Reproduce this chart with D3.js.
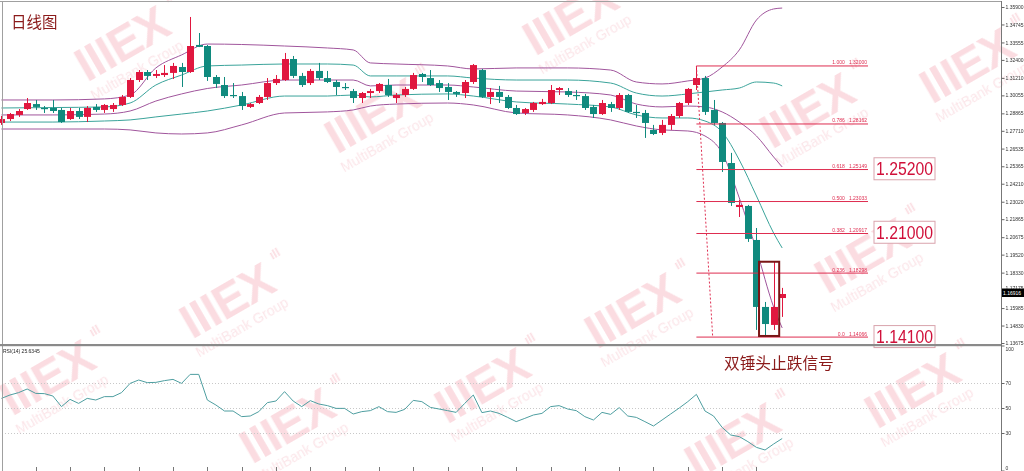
<!DOCTYPE html>
<html><head><meta charset="utf-8">
<script src="https://cdn.jsdelivr.net/npm/d3@7"></script>
<style>
html,body{margin:0;padding:0;background:#fff;}
svg{display:block;font-family:"Liberation Sans",Arial,sans-serif;}
</style></head><body>
<svg id="chart" width="1024" height="471"></svg>
<script>
// ---------------- data ----------------
const opens = [1.2823,1.2849,1.2876,1.2915,1.2948,1.2922,1.2922,1.2909,1.2849,1.2902,
1.2863,1.2929,1.2909,1.2915,1.2942,1.2995,1.3107,1.3160,1.3134,1.3140,
1.3154,1.3193,1.3160,1.3339,1.3332,1.3127,1.3074,1.3008,1.3001,1.2929,
1.2955,1.2995,1.3087,1.3107,1.3246,1.3134,1.3087,1.3167,1.3120,1.3094,
1.3061,1.3034,1.2988,1.3021,1.3034,1.3074,1.2988,1.3008,1.3048,1.3147,
1.3120,1.3087,1.3061,1.3028,1.3021,1.3094,1.3173,1.2995,1.3028,1.2995,
1.2922,1.2889,1.2909,1.2948,1.2955,1.3041,1.3034,1.3008,1.3001,1.2929,
1.2882,1.2948,1.2922,1.3008,1.2896,1.2889,1.2777,1.2757,1.2810,1.2869,
1.2955,1.3074,1.3120,1.2909,1.2823,1.2558,1.2267,1.2274,1.2049,1.1606,
1.1487,1.1665];
const highs = [1.2869,1.2889,1.2915,1.2988,1.2975,1.2935,1.2975,1.2922,1.2922,1.2922,
1.2935,1.2948,1.2948,1.2955,1.3008,1.3120,1.3173,1.3173,1.3173,1.3206,
1.3220,1.3220,1.3524,1.3418,1.3339,1.3140,1.3127,1.3087,1.3028,1.2955,
1.3008,1.3120,1.3140,1.3286,1.3266,1.3154,1.3180,1.3220,1.3167,1.3107,
1.3087,1.3048,1.3028,1.3048,1.3087,1.3114,1.3021,1.3061,1.3154,1.3154,
1.3173,1.3107,1.3087,1.3034,1.3107,1.3213,1.3180,1.3054,1.3068,1.3008,
1.2942,1.2922,1.2962,1.2982,1.3074,1.3061,1.3054,1.3041,1.3015,1.2942,
1.2975,1.2962,1.3021,1.3015,1.2942,1.2909,1.2810,1.2843,1.2882,1.2962,
1.3054,1.3200,1.3134,1.2975,1.2829,1.2625,1.2314,1.2281,1.2128,1.1639,
1.1903,1.1732];
const lows = [1.2810,1.2836,1.2863,1.2909,1.2909,1.2889,1.2889,1.2823,1.2843,1.2849,
1.2829,1.2896,1.2889,1.2896,1.2935,1.2988,1.3094,1.3107,1.3120,1.3127,
1.3114,1.3061,1.3154,1.3325,1.3101,1.3054,1.2988,1.2988,1.2909,1.2922,
1.2948,1.2975,1.3074,1.3101,1.3120,1.3061,1.3074,1.3107,1.3087,1.3008,
1.3041,1.2955,1.2955,1.2988,1.3021,1.2995,1.2955,1.2995,1.3041,1.3094,
1.3068,1.3028,1.2975,1.2995,1.2988,1.3081,1.2988,1.2948,1.2955,1.2915,
1.2876,1.2876,1.2896,1.2942,1.2948,1.3008,1.2995,1.2975,1.2909,1.2856,
1.2876,1.2896,1.2909,1.2889,1.2856,1.2724,1.2743,1.2743,1.2777,1.2856,
1.2942,1.3041,1.2876,1.2810,1.2499,1.2274,1.2201,1.2036,1.1454,1.1407,
1.1454,1.1540];
const closes = [1.2849,1.2882,1.2902,1.2955,1.2929,1.2915,1.2902,1.2829,1.2902,1.2863,
1.2922,1.2909,1.2942,1.2942,1.2995,1.3107,1.3160,1.3134,1.3147,1.3154,
1.3200,1.3160,1.3332,1.3326,1.3127,1.3081,1.3001,1.3001,1.2935,1.2948,
1.2995,1.3087,1.3114,1.3246,1.3134,1.3074,1.3167,1.3120,1.3094,1.3061,
1.3054,1.2988,1.3021,1.3034,1.3081,1.3008,1.3008,1.3048,1.3140,1.3127,
1.3074,1.3054,1.3028,1.3015,1.3094,1.3206,1.2995,1.3028,1.2995,1.2922,
1.2882,1.2915,1.2955,1.2962,1.3041,1.3054,1.3008,1.3001,1.2922,1.2882,
1.2955,1.2922,1.3008,1.2896,1.2889,1.2823,1.2750,1.2810,1.2869,1.2955,
1.3048,1.3120,1.2896,1.2823,1.2565,1.2294,1.2281,1.2056,1.1606,1.1493,
1.1606,1.16916];

const bandIdx = [0,6,12,15,18,21,24,28,33,38,41,43,46,52,55,60,66,71,74,77,80,82,84,86,88,90,91];
const bandUpper2 = [1.2975,1.2975,1.2982,1.3008,1.3187,1.3273,1.3345,1.3342,1.3332,1.3319,1.3306,1.3220,1.3213,1.3200,1.3180,1.3187,1.3187,1.3173,1.3094,1.3081,1.3101,1.3120,1.3193,1.3306,1.3504,1.3577,1.3583];
const bandUpper1 = [1.2922,1.2925,1.2929,1.2955,1.3074,1.3140,1.3200,1.3206,1.3213,1.3213,1.3206,1.3134,1.3134,1.3134,1.3120,1.3107,1.3107,1.3087,1.3021,1.3001,1.3015,1.3028,1.3041,1.3054,1.3094,1.3087,1.3068];
const bandMid    = [1.2876,1.2876,1.2882,1.2902,1.2968,1.3015,1.3051,1.3074,1.3107,1.3107,1.3107,1.3068,1.3074,1.3074,1.3061,1.3034,1.3028,1.3008,1.2948,1.2929,1.2935,1.2929,1.2896,1.2829,1.2737,1.2598,1.2532];
const bandLower1 = [1.2829,1.2829,1.2836,1.2843,1.2863,1.2882,1.2902,1.2942,1.3001,1.3001,1.3008,1.2995,1.3008,1.3015,1.3001,1.2962,1.2948,1.2929,1.2876,1.2856,1.2856,1.2836,1.2763,1.2578,1.2340,1.2095,1.1996];
const bandLower2 = [1.2783,1.2783,1.2783,1.2777,1.2757,1.2750,1.2757,1.2810,1.2889,1.2896,1.2909,1.2935,1.2948,1.2955,1.2942,1.2889,1.2876,1.2843,1.2803,1.2777,1.2770,1.2737,1.2624,1.2327,1.1983,1.1606,1.1467];

const rsiValues = [57.7,60.4,62.3,65.2,61.7,61.5,59.6,51.1,56.9,53.7,
57.7,56.4,59.1,59.1,62.3,69.7,72.4,70.3,70.5,71.9,
72.9,69.7,76.9,76.9,56.4,52.4,47.6,47.6,43.1,43.6,
47.1,54.3,55.6,63.1,55.6,51.1,55.9,53.2,51.9,49.7,
49.7,45.2,47.1,47.9,51.1,47.1,46.5,48.9,56.1,55.1,
50.5,49.2,47.9,46.5,53.7,60.4,46.3,47.6,45.7,42.5,
39.1,41.7,44.4,45.7,51.1,51.9,49.2,47.9,43.1,40.4,
46.5,44.9,50.3,43.6,42.5,39.1,35.6,40.4,45.2,50.0,
55.1,60.9,47.6,43.6,34.5,28.4,27.1,23.1,18.5,16.4,
21.2,25.6];

const priceTicks = [1.35900,1.34745,1.33555,1.32400,1.31210,1.30055,1.28865,1.27710,1.26535,1.25365,1.24210,1.23020,1.21865,1.20675,1.19520,1.18330,1.17175,1.15985,1.14830,1.13675];
const rsiTicks = [100,70,50,30,0];
const rsiLevels = [70,50,30];
const lastPrice = 1.16916;
const rsiLabel = "RSI(14) 25.6345";
const fibLevels = ["1.000","0.786","0.618","0.500","0.382","0.236","0.0"];
const fibPrices = [1.32000,1.28162,1.25149,1.23033,1.20917,1.18298,1.14066];
const keyLevels = ["1.25200","1.21000","1.14100"];
const title = "日线图";
const note = "双锤头止跌信号";

// ---------------- layout ----------------
const svg = d3.select("#chart");
const AX = 1001;
const MAIN_TOP = 2, MAIN_BOT = 345;
const x = d3.scaleLinear().domain([0, 91]).range([1.4, 782.2]);
const y = d3.scaleLinear().domain([1.13675, 1.359]).range([343, 7]);
const yr = d3.scaleLinear().domain([0, 100]).range([470.5, 345.5]);

const RED = "#e0173f", TEAL = "#108a7e", PURPLE = "#a0559c", BTEAL = "#3aa39a";
const FIB = "#de2d50", DARKRED = "#8b1a1a";

// ---------------- watermarks ----------------
const wm = svg.append("g").attr("opacity", 0.4);
[[130,58],[380,130],[578,32],[815,125],[870,270],[975,80],[55,392],[235,315],[295,440],[490,400],[640,325],[920,405],[740,455]]
.forEach(([cx, cy]) => {
  const g = wm.append("g").attr("transform", `translate(${cx},${cy}) rotate(-30)`);
  g.append("text").attr("text-anchor", "middle").attr("font-size", 48).attr("font-weight", "bold")
   .attr("fill", "#f4a9b5").attr("letter-spacing", -1).text("IIIEX");
  g.append("text").attr("x", 60).attr("y", -29).attr("font-size", 12).attr("font-weight", "bold")
   .attr("fill", "#f4a9b5").text("ıll");
  g.append("text").attr("text-anchor", "middle").attr("y", 19).attr("font-size", 14)
   .attr("fill", "#f6bfc8").text("MultiBank Group");
});

// ---------------- main panel ----------------
svg.append("defs").append("clipPath").attr("id", "clipMain")
  .append("rect").attr("x", 0).attr("y", MAIN_TOP).attr("width", AX).attr("height", MAIN_BOT - MAIN_TOP);
const main = svg.append("g").attr("clip-path", "url(#clipMain)");

const bandLine = d3.line().x(d => x(d[0])).y(d => y(d[1])).curve(d3.curveMonotoneX);
[[bandUpper2, PURPLE],[bandUpper1, BTEAL],[bandMid, PURPLE],[bandLower1, BTEAL],[bandLower2, PURPLE]]
.forEach(([arr, col]) => {
  main.append("path").datum(bandIdx.map((b, k) => [b, arr[k]]))
    .attr("d", bandLine).attr("fill", "none").attr("stroke", col).attr("stroke-width", 1);
});

// candles
const bars = opens.map((o, i) => ({i, o, h: highs[i], l: lows[i], c: closes[i]}));
const cg = main.append("g");
bars.forEach(b => {
  const col = b.c > b.o ? RED : TEAL;
  const cx = Math.round(x(b.i)) + 0.5;
  cg.append("line").attr("x1", cx).attr("x2", cx).attr("y1", y(b.h)).attr("y2", y(b.l))
    .attr("stroke", col).attr("stroke-width", 1);
  const top = y(Math.max(b.o, b.c)), bot = y(Math.min(b.o, b.c));
  cg.append("rect").attr("x", cx - 3.5).attr("y", top).attr("width", 7)
    .attr("height", Math.max(1.2, bot - top)).attr("fill", col);
});

// fibonacci
const fibStart = 81, fibEnd = 101;
fibPrices.forEach((p, k) => {
  main.append("line").attr("x1", x(fibStart)).attr("x2", x(fibEnd)).attr("y1", y(p)).attr("y2", y(p))
    .attr("stroke", FIB).attr("stroke-width", 1);
  main.append("text").attr("x", x(fibEnd) - 1).attr("y", y(p) - 1.5).attr("text-anchor", "end")
    .attr("font-size", 5).attr("fill", FIB).style("white-space", "pre")
    .text(fibLevels[k] + "   " + p.toFixed(5));
});
main.append("line").attr("x1", x(fibStart)).attr("y1", y(fibPrices[0]))
  .attr("x2", x(82.9)).attr("y2", y(fibPrices[6]))
  .attr("stroke", FIB).attr("stroke-width", 1).attr("stroke-dasharray", "2,2");

// key level boxes
keyLevels.forEach(v => {
  const cy = y(+v);
  svg.append("rect").attr("x", x(fibEnd) + 6).attr("y", cy - 11).attr("width", 61).attr("height", 22)
    .attr("fill", "#fff").attr("stroke", "#d9a4ad").attr("stroke-width", 1);
  svg.append("text").attr("x", x(fibEnd) + 36.5).attr("y", cy + 6.5).attr("text-anchor", "middle")
    .attr("font-size", 18).attr("fill", "#d0103a").attr("textLength", 57).attr("lengthAdjust", "spacingAndGlyphs")
    .text(v);
});

// double-hammer box
svg.append("rect").attr("x", x(88.3)).attr("y", y(1.1905)).attr("width", x(90.65) - x(88.3))
  .attr("height", y(1.1414) - y(1.1905)).attr("fill", "none").attr("stroke", "#7a1515").attr("stroke-width", 2);

// title texts
svg.append("text").attr("x", 11).attr("y", 28).attr("font-size", 15.5)
  .attr("font-family", "'Noto Sans CJK SC', sans-serif").attr("fill", DARKRED).text(title);
svg.append("text").attr("x", 724).attr("y", 369).attr("font-size", 15.7)
  .attr("font-family", "'Noto Sans CJK SC', sans-serif").attr("fill", DARKRED).text(note);

// ---------------- RSI panel ----------------
rsiLevels.forEach(v => {
  svg.append("line").attr("x1", 2).attr("x2", AX).attr("y1", Math.round(yr(v)) + 0.5).attr("y2", Math.round(yr(v)) + 0.5)
    .attr("stroke", "#c8c8c8").attr("stroke-width", 1).attr("stroke-dasharray", "1,2");
});
svg.append("path").datum(rsiValues)
  .attr("d", d3.line().x((d, i) => x(i)).y(d => yr(d)))
  .attr("fill", "none").attr("stroke", "#4e9ea0").attr("stroke-width", 1);
svg.append("text").attr("x", 3).attr("y", 353).attr("font-size", 5).attr("fill", "#222").text(rsiLabel);

// ---------------- frame & axes ----------------
svg.append("line").attr("x1", 0).attr("x2", AX).attr("y1", 1.5).attr("y2", 1.5).attr("stroke", "#a0a0a0");
svg.append("line").attr("x1", 2.5).attr("x2", 2.5).attr("y1", 1).attr("y2", 471).attr("stroke", "#a0a0a0");
svg.append("line").attr("x1", AX + 0.5).attr("x2", AX + 0.5).attr("y1", 1).attr("y2", 471).attr("stroke", "#777");
svg.append("rect").attr("x", 0).attr("y", 344).attr("width", AX).attr("height", 2.2).attr("fill", "#8a8a8a");

const axR = svg.append("g").attr("transform", `translate(${AX + 0.5},0)`)
  .call(d3.axisRight(y).tickValues(priceTicks).tickSize(3).tickFormat(d => d.toFixed(5)));
axR.select(".domain").remove();
axR.selectAll("line").attr("stroke", "#666");
axR.selectAll("text").attr("font-size", 5).attr("fill", "#333").attr("x", 4)
  .attr("dy", d => d === 1.17175 ? "-0.1em" : "0.32em");

const axRsi = svg.append("g").attr("transform", `translate(${AX + 0.5},0)`)
  .call(d3.axisRight(yr).tickValues(rsiTicks).tickSize(3).tickFormat(d => String(d)));
axRsi.select(".domain").remove();
axRsi.selectAll("line").attr("stroke", "#666");
axRsi.selectAll("text").attr("font-size", 5).attr("fill", "#333").attr("x", 4)
  .attr("dy", d => d === 100 ? "0.9em" : d === 0 ? "-0.2em" : "0.32em");

// last price tag
const lp = y(lastPrice) - 1.5;
svg.append("rect").attr("x", AX + 1).attr("y", lp - 4).attr("width", 23).attr("height", 8.5).attr("fill", "#000");
svg.append("text").attr("x", AX + 2).attr("y", lp + 2).attr("font-size", 5).attr("fill", "#fff").text(lastPrice.toFixed(5));

// bottom time ticks
const tg = svg.append("g");
d3.range(4, 89, 4).forEach(i => {
  tg.append("line").attr("x1", Math.round(x(i)) + 0.5).attr("x2", Math.round(x(i)) + 0.5)
    .attr("y1", 467).attr("y2", 471).attr("stroke", "#777");
});
</script>
</body></html>
